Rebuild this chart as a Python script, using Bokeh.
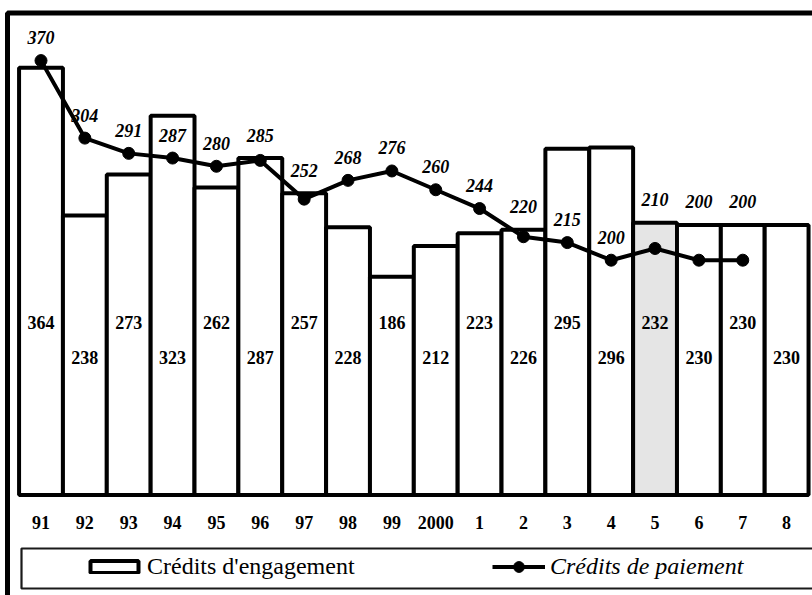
from bokeh.plotting import figure
from bokeh.models import (ColumnDataSource, LinearAxis, FixedTicker, Legend,
                          LegendItem, Range1d)
from bokeh.core.properties import value
from bokeh.embed import file_html
from bokeh.resources import INLINE

# ---------------- data ----------------
years = ["91", "92", "93", "94", "95", "96", "97", "98", "99", "2000",
         "1", "2", "3", "4", "5", "6", "7", "8"]
engagement = [364, 238, 273, 323, 262, 287, 257, 228, 186, 212,
              223, 226, 295, 296, 232, 230, 230, 230]
paiement = [370, 304, 291, 287, 280, 285, 252, 268, 276, 260,
            244, 220, 215, 200, 210, 200, 200]
highlight_year = "5"

# ---------------- geometry ----------------
W, H = 812, 595
x0_px = 40.5      # canvas px of first bar centre
step_px = 43.86   # px per category
y0_px = 494.5     # canvas px of value 0
unit_px = 1.174   # px per unit
x_start = -x0_px / step_px
x_end = x_start + W / step_px
y_end = y0_px / unit_px
y_start = y_end - H / unit_px

SERIF = value("Liberation Serif")

p = figure(width=W, height=H,
           x_range=Range1d(x_start, x_end), y_range=Range1d(y_start, y_end),
           x_axis_type=None, y_axis_type=None,
           toolbar_location=None, output_backend="svg",
           min_border_left=0, min_border_right=0,
           min_border_top=0, min_border_bottom=0,
           outline_line_color=None, background_fill_color="white",
           border_fill_color="white")

# outer frame and legend box (decoration)
p.quad(left=[x_start + 7 / step_px], right=[x_end + 1],
       top=[(y0_px - 12.5) / unit_px], bottom=[y_start - 10],
       fill_alpha=0, line_color="black", line_width=5)
p.quad(left=[x_start + 21 / step_px], right=[x_end + 1],
       top=[(y0_px - 548) / unit_px], bottom=[(y0_px - 588) / unit_px],
       fill_alpha=0, line_color="#1a1a1a", line_width=2.2)

idx = list(range(len(years)))
fills = ["#e5e5e5" if y == highlight_year else "white" for y in years]
bar_src = ColumnDataSource(dict(x=idx, top=engagement, fill=fills,
                                label=[str(v) for v in engagement],
                                ly=[147 if i % 2 == 0 else 117 for i in idx]))
bars = p.vbar(x="x", top="top", bottom=0, width=1, fill_color="fill",
              line_color="black", line_width=4, source=bar_src)

pidx = list(range(len(paiement)))
line_r = p.line(pidx, paiement, line_color="black", line_width=4)
dots = p.scatter(pidx, paiement, size=12, marker="circle",
                 fill_color="black", line_color="black")

# bar value labels
p.text(x="x", y="ly", text="label", source=bar_src, text_align="center",
       text_baseline="middle", text_font=SERIF, text_font_size="18px",
       text_font_style="bold", text_color="black")

# line value labels: above the point, or above the bar when it is just higher
anchor = []
for i, v in enumerate(paiement):
    b = engagement[i]
    anchor.append(b if 0 <= b - v < 35 else v)
lab_y = [a + 23 / unit_px for a in anchor]
p.text(x=pidx, y=lab_y, text=[str(v) for v in paiement], text_align="center",
       text_baseline="middle", text_font=SERIF, text_font_size="18px",
       text_font_style="bold italic", text_color="black")

# category axis
ax = LinearAxis(ticker=FixedTicker(ticks=idx),
                major_label_overrides={i: y for i, y in enumerate(years)},
                fixed_location=0)
ax.axis_line_color = None
ax.major_tick_line_color = None
ax.minor_tick_line_color = None
ax.major_label_standoff = 15
ax.major_label_text_font = "Liberation Serif"
ax.major_label_text_font_size = "18px"
ax.major_label_text_font_style = "bold"
ax.major_label_text_color = "black"
p.add_layout(ax, "below")

leg1 = Legend(items=[LegendItem(label="Crédits d'engagement", renderers=[bars], index=0)],
              location=(84, 15), orientation="horizontal", padding=0, spacing=0,
              margin=0, glyph_width=60, glyph_height=15, label_standoff=3,
              label_text_font="Liberation Serif", label_text_font_size="24px",
              label_text_color="black", border_line_color=None,
              background_fill_alpha=0)
leg2 = Legend(items=[LegendItem(label="Crédits de paiement", renderers=[line_r, dots])],
              location=(492, 15), orientation="horizontal", padding=0, spacing=0,
              margin=0, glyph_width=53, glyph_height=27, label_standoff=5,
              label_text_font="Liberation Serif", label_text_font_size="24px",
              label_text_font_style="italic", label_text_color="black",
              border_line_color=None, background_fill_alpha=0)
p.add_layout(leg1)
p.add_layout(leg2)

html = file_html(p, INLINE)
html = html.replace("<head>", "<head><style>html,body{overflow:hidden;}</style>", 1)
open("out.html", "w").write(html)
